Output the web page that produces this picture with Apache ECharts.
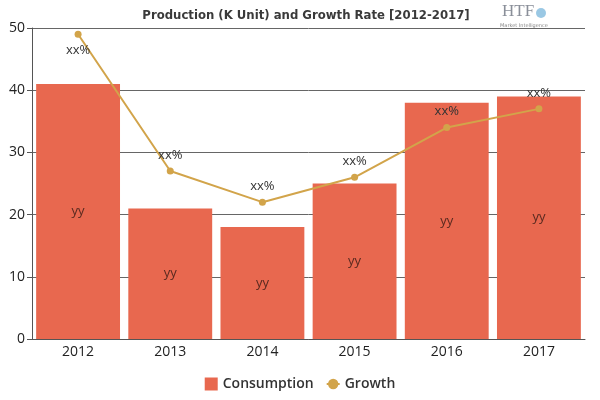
<!DOCTYPE html>
<html><head><meta charset="utf-8">
<script src="https://cdn.jsdelivr.net/npm/echarts@6/dist/echarts.min.js"></script>
<style>html,body{margin:0;padding:0;background:#fff}#c{width:600px;height:400px}</style>
</head><body><div id="c"></div>
<script>
const categories = ['2012','2013','2014','2015','2016','2017'];
const consumption = [41, 21, 18, 25, 38, 39];
const growth = [49, 27, 22, 26, 34, 37];
const barLabels = ['yy','yy','yy','yy','yy','yy'];
const lineLabels = ['xx%','xx%','xx%','xx%','xx%','xx%'];
const yTicks = [0, 10, 20, 30, 40, 50];

const chart = echarts.init(document.getElementById('c'));
chart.setOption({
  animation: false,
  backgroundColor: '#fff',
  title: {
    text: 'Production (K Unit) and Growth Rate [2012-2017]',
    left: 301, top: 4, textAlign: 'center',
    textStyle: { fontFamily: '"DejaVu Sans Condensed", "DejaVu Sans", sans-serif', fontWeight: 'bold', fontSize: 13, color: '#3a3a3a' }
  },
  graphic: [
    { type: 'text', left: 502, top: 3, style: { text: 'HTF', font: '17px "Liberation Serif"', fill: '#8a8f99' } },
    { type: 'text', left: 500, top: 23, style: { text: 'Market Intelligence', font: '5px "DejaVu Sans"', fill: '#888' } },
    { type: 'circle', shape: { cx: 541, cy: 13, r: 5 }, style: { fill: '#6fb0d8', opacity: 0.7 } }
  ],
  legend: {
    bottom: 4, left: 'center', itemGap: 12, itemWidth: 13, itemHeight: 13,
    textStyle: { fontFamily: 'Open Sans', fontSize: 14, fontWeight: 600, color: '#333' },
    data: [{ name: 'Consumption', icon: 'rect' }, { name: 'Growth' }]
  },
  grid: { left: 32, right: 15, top: 28, bottom: 61 },
  xAxis: {
    type: 'category', data: categories,
    axisLine: { lineStyle: { color: '#555' } },
    axisTick: { show: false },
    axisLabel: { fontFamily: 'Open Sans', fontSize: 14, color: '#222', margin: 6 }
  },
  yAxis: {
    type: 'value', min: yTicks[0], max: yTicks[yTicks.length - 1], interval: 10,
    axisLine: { show: true, lineStyle: { color: '#555' } },
    axisTick: { show: true, length: 5, lineStyle: { color: '#555' } },
    splitLine: { lineStyle: { color: '#666' } },
    axisLabel: { fontFamily: 'Open Sans', fontSize: 14, color: '#222', margin: 7 }
  },
  series: [
    {
      name: 'Consumption', type: 'bar', data: consumption, barCategoryGap: '9%',
      itemStyle: { color: '#E8684F' },
      label: { show: true, position: 'inside', formatter: p => barLabels[p.dataIndex],
        fontFamily: 'Open Sans', fontSize: 13, color: '#5a2a20' }
    },
    {
      name: 'Growth', type: 'line', data: growth.map((v, i) => ({
        value: v,
        label: { position: i === 0 ? 'bottom' : 'top' }
      })),
      symbol: 'circle', symbolSize: 7,
      lineStyle: { color: '#D2A44A', width: 2 },
      itemStyle: { color: '#D2A44A' },
      label: { show: true, formatter: p => lineLabels[p.dataIndex], distance: 6,
        fontFamily: 'Open Sans', fontSize: 13, color: '#333' }
    }
  ]
});
</script></body></html>
